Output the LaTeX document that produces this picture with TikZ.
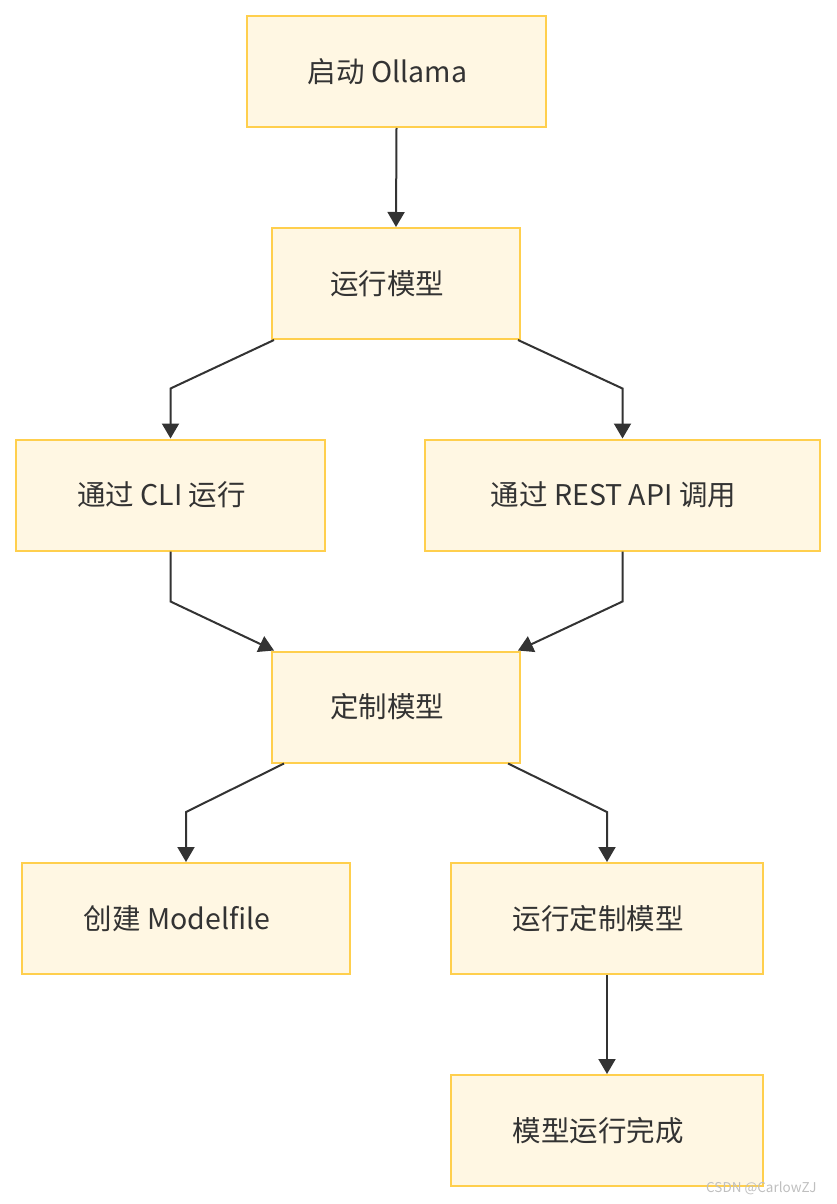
\documentclass[tikz,border=0pt]{standalone}
\usepackage{fontspec}
\setmainfont{Noto Sans CJK SC}
\definecolor{boxfill}{HTML}{FFF7E3}
\definecolor{boxline}{HTML}{FFCF4D}
\definecolor{inkgray}{HTML}{333333}
\usetikzlibrary{arrows.meta,positioning}

\begin{document}
\begin{tikzpicture}[x=1pt,y=-1pt,
  box/.style={draw=boxline,fill=boxfill,line width=2pt,minimum height=111pt,font=\fontsize{28.5}{33}\selectfont,text=inkgray,inner sep=0pt,execute at begin node={\hspace*{-18pt}}},
  arr/.style={draw=inkgray,line width=2pt,-{Triangle[length=15pt,width=17pt]}}]
  \useasboundingbox (0,0) rectangle (836,1204);
  % boxes
  \node[box,minimum width=299pt] (start) at (396.5,71.5) {启动 Ollama};
  \node[box,minimum width=248pt] (run) at (396,283.5) {运行模型};
  \node[box,minimum width=309pt] (cli) at (170.5,495) {通过 CLI 运行};
  \node[box,minimum width=395pt] (rest) at (622.5,495) {通过 REST API 调用};
  \node[box,minimum width=248pt] (custom) at (396,707) {定制模型};
  \node[box,minimum width=328pt] (mfile) at (186,918.5) {创建 Modelfile};
  \node[box,minimum width=312pt] (runc) at (607,918.5) {运行定制模型};
  \node[box,minimum width=312pt] (done) at (607,1130.5) {模型运行完成};
  % connectors
  \draw[arr] (start.south) -- (run.north);
  \draw[arr] ([xshift=3pt]run.south west) -- ([yshift=50pt]cli.north) -- (cli.north);
  \draw[arr] ([xshift=-3pt]run.south east) -- ([yshift=50pt]rest.north) -- (rest.north);
  \draw[arr] (cli.south) -- ([yshift=-50pt]cli.south) -- ([xshift=3pt]custom.north west);
  \draw[arr] (rest.south) -- ([yshift=-50pt]rest.south) -- ([xshift=-3pt]custom.north east);
  \draw[arr] ([xshift=13pt]custom.south west) -- ([yshift=50pt]mfile.north) -- (mfile.north);
  \draw[arr] ([xshift=-13pt]custom.south east) -- ([yshift=50pt]runc.north) -- (runc.north);
  \draw[arr] (runc.south) -- (done.north);
  \node[font=\fontsize{13.5}{16}\selectfont,text=black!25,anchor=east] (mark) at (820,1188) {CSDN @CarlowZJ};
\end{tikzpicture}
\end{document}
